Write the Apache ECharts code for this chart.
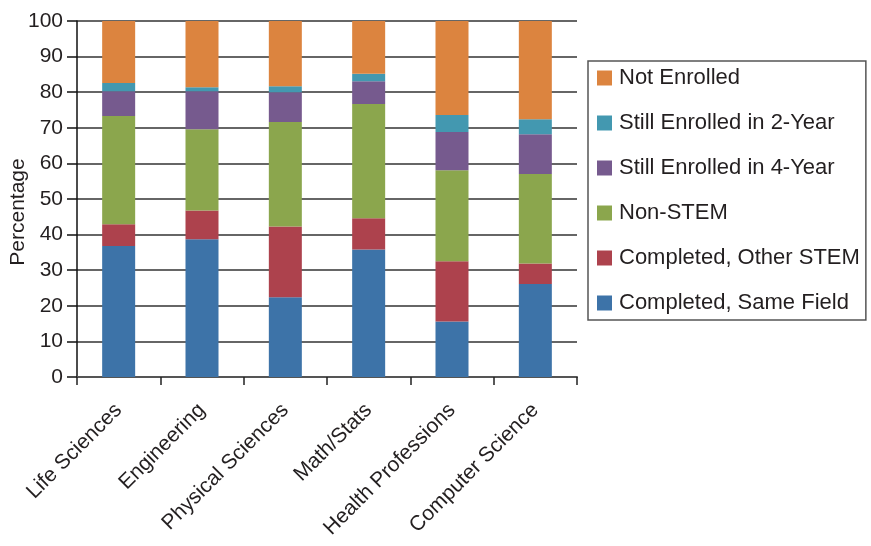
<!DOCTYPE html>
<html>
<head>
<meta charset="utf-8">
<script src="https://cdn.jsdelivr.net/npm/echarts@6/dist/echarts.min.js"></script>
<style>html,body{margin:0;padding:0;background:#fff;}#c{width:871px;height:546px;}</style>
</head>
<body>
<div id="c"></div>
<script>
const categories = ['Life Sciences', 'Engineering', 'Physical Sciences', 'Math/Stats', 'Health Professions', 'Computer Science'];
const completedSame = [36.8, 38.7, 22.4, 35.8, 15.6, 26.1];
const completedOther = [6.1, 8.1, 19.9, 8.8, 16.9, 5.8];
const nonStem = [30.4, 22.8, 29.3, 32.1, 25.6, 25.1];
const enrolled4 = [7.0, 10.7, 8.4, 6.4, 10.7, 11.2];
const enrolled2 = [2.3, 1.1, 1.7, 2.1, 4.8, 4.2];
const notEnrolled = [17.4, 18.6, 18.3, 14.8, 26.4, 27.6];
const seriesNames = ['Completed, Same Field', 'Completed, Other STEM', 'Non-STEM', 'Still Enrolled in 4-Year', 'Still Enrolled in 2-Year', 'Not Enrolled'];
const seriesData = [completedSame, completedOther, nonStem, enrolled4, enrolled2, notEnrolled];
const colors = ['#3d73a8', '#ad424d', '#8ba64d', '#765a8e', '#4398b0', '#dc843f'];
const font = 'Liberation Sans, Arial, Helvetica, sans-serif';

const chart = echarts.init(document.getElementById('c'));
chart.setOption({
  animation: false,
  backgroundColor: '#fff',
  color: colors,
  grid: { left: 77, right: 294, top: 21, bottom: 169, containLabel: false, outerBoundsMode: 'none' },
  legend: {
    orient: 'vertical',
    left: 588,
    top: 61,
    data: seriesNames.slice().reverse(),
    itemWidth: 15,
    itemHeight: 15,
    itemGap: 23,
    icon: 'rect',
    padding: [6, 6, 6, 9],
    borderColor: '#555',
    borderWidth: 1.5,
    textStyle: { fontSize: 22, lineHeight: 22, color: '#231f20', fontFamily: font, padding: [0, 0, 0, 2] }
  },
  xAxis: {
    type: 'category',
    data: categories,
    axisLine: { lineStyle: { color: '#555', width: 2 } },
    axisTick: { show: true, length: 8, lineStyle: { color: '#222', width: 1.5 } },
    axisLabel: { rotate: 45, fontSize: 21, color: '#231f20', fontFamily: font, margin: 30, interval: 0 }
  },
  yAxis: {
    type: 'value',
    min: 0, max: 100, interval: 10,
    name: 'Percentage',
    nameLocation: 'middle',
    nameGap: 48,
    nameMoveOverlap: false,
    nameTextStyle: { fontSize: 21, color: '#231f20', fontFamily: font, padding: [0, 26, 0, 0] },
    axisLine: { show: true, lineStyle: { color: '#111', width: 1.5 } },
    axisTick: { show: true, length: 10, lineStyle: { color: '#111', width: 1.5 } },
    axisLabel: { fontSize: 21, color: '#231f20', fontFamily: font, margin: 14 },
    splitLine: { lineStyle: { color: '#333', width: 1.5 } }
  },
  series: seriesNames.map((n, i) => ({
    name: n,
    type: 'bar',
    stack: 'total',
    barWidth: 33,
    data: seriesData[i],
    itemStyle: { color: colors[i] }
  }))
});
</script>
</body>
</html>
